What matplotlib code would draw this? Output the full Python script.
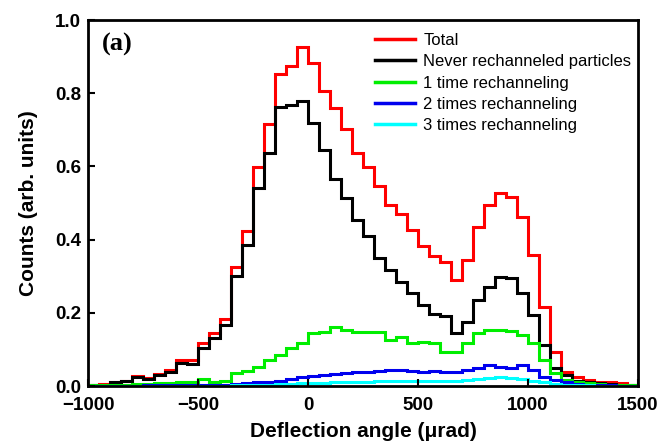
import numpy as np
import matplotlib
matplotlib.use('Agg')
import matplotlib.pyplot as plt

# Bin edges of the deflection-angle histograms (urad)
edges = np.arange(-1000, 1501, 50)

# Counts per bin (arb. units)
total = [0.002, 0.005, 0.012, 0.015, 0.028, 0.021, 0.034, 0.044, 0.070, 0.072,
         0.117, 0.144, 0.184, 0.326, 0.424, 0.599, 0.716, 0.853, 0.875, 0.927,
         0.883, 0.807, 0.761, 0.701, 0.637, 0.599, 0.547, 0.495, 0.470, 0.425,
         0.382, 0.355, 0.340, 0.290, 0.344, 0.435, 0.495, 0.527, 0.517, 0.463,
         0.358, 0.217, 0.094, 0.039, 0.025, 0.016, 0.012, 0.012, 0.008, 0.004]
never = [0.002, 0.004, 0.010, 0.013, 0.024, 0.018, 0.030, 0.039, 0.062, 0.060,
         0.103, 0.132, 0.168, 0.300, 0.385, 0.542, 0.638, 0.763, 0.768, 0.780,
         0.718, 0.645, 0.567, 0.515, 0.454, 0.410, 0.350, 0.318, 0.285, 0.253,
         0.221, 0.196, 0.192, 0.144, 0.176, 0.235, 0.271, 0.299, 0.294, 0.253,
         0.194, 0.112, 0.048, 0.030, 0.015, 0.010, 0.008, 0.006, 0.004, 0.003]
once = [0.002, 0.002, 0.003, 0.004, 0.005, 0.006, 0.007, 0.008, 0.010, 0.012,
        0.018, 0.012, 0.015, 0.035, 0.040, 0.053, 0.071, 0.085, 0.103, 0.117,
        0.144, 0.148, 0.162, 0.153, 0.148, 0.148, 0.148, 0.126, 0.135, 0.117,
        0.121, 0.117, 0.094, 0.094, 0.117, 0.144, 0.153, 0.153, 0.150, 0.139,
        0.117, 0.071, 0.035, 0.016, 0.012, 0.008, 0.006, 0.004, 0.003, 0.002]
twice = [0.001, 0.001, 0.001, 0.001, 0.001, 0.002, 0.002, 0.002, 0.002, 0.003,
         0.003, 0.004, 0.004, 0.005, 0.008, 0.010, 0.012, 0.015, 0.020, 0.025,
         0.027, 0.030, 0.033, 0.035, 0.037, 0.039, 0.040, 0.044, 0.044, 0.040,
         0.039, 0.040, 0.039, 0.039, 0.044, 0.048, 0.057, 0.053, 0.048, 0.057,
         0.044, 0.025, 0.016, 0.010, 0.006, 0.004, 0.003, 0.002, 0.001, 0.001]
thrice = [0.001, 0.001, 0.001, 0.001, 0.001, 0.001, 0.001, 0.001, 0.001, 0.001,
          0.001, 0.001, 0.001, 0.002, 0.003, 0.003, 0.004, 0.005, 0.006, 0.007,
          0.008, 0.009, 0.010, 0.011, 0.012, 0.012, 0.013, 0.013, 0.014, 0.014,
          0.014, 0.015, 0.015, 0.015, 0.016, 0.018, 0.022, 0.024, 0.022, 0.020,
          0.015, 0.010, 0.006, 0.004, 0.003, 0.002, 0.001, 0.001, 0.001, 0.001]

series = [
    (total, 'Total', '#ff0000'),
    (never, 'Never rechanneled particles', '#000000'),
    (once, '1 time rechanneling', '#00ee00'),
    (twice, '2 times rechanneling', '#0000ee'),
    (thrice, '3 times rechanneling', '#00ffff'),
]

plt.rcParams['font.family'] = ['Liberation Sans', 'DejaVu Sans']

fig = plt.figure(figsize=(6.63, 4.46), dpi=100)
ax = fig.add_axes([0.133, 0.1345, 0.829, 0.8205])

for vals, label, color in series:
    ax.stairs(vals, edges, color=color, linewidth=2.2, label=label, baseline=None)

ax.set_xlim(-1000, 1500)
ax.set_ylim(0, 1.0)
ax.set_xticks([-1000, -500, 0, 500, 1000, 1500])
ax.set_yticks([0.0, 0.2, 0.4, 0.6, 0.8, 1.0])
ax.set_yticklabels(['0.0', '0.2', '0.4', '0.6', '0.8', '1.0'])
ax.tick_params(direction='in', length=5, width=1.5, labelsize=13.5)
ax.tick_params(axis='x', pad=8)
ax.tick_params(axis='y', pad=5)
for lab in ax.get_xticklabels() + ax.get_yticklabels():
    lab.set_fontweight('bold')
for sp in ax.spines.values():
    sp.set_linewidth(2)

ax.set_xlabel('Deflection angle (\u03bcrad)', fontsize=15, fontweight='bold', labelpad=6)
ax.set_ylabel('Counts (arb. units)', fontsize=15, fontweight='bold', labelpad=12)

ax.text(0.025, 0.965, '(a)', transform=ax.transAxes, fontsize=19, fontweight='bold',
        family='Liberation Serif', va='top', ha='left')

leg = ax.legend(loc='upper right', bbox_to_anchor=(1.005, 0.99), frameon=False,
                fontsize=12, handlelength=2.4, handletextpad=0.5,
                labelspacing=0.38, borderaxespad=0.25, borderpad=0.3)
for h in leg.get_lines():
    h.set_linewidth(2.5)

fig.savefig('out.png', dpi=100)
